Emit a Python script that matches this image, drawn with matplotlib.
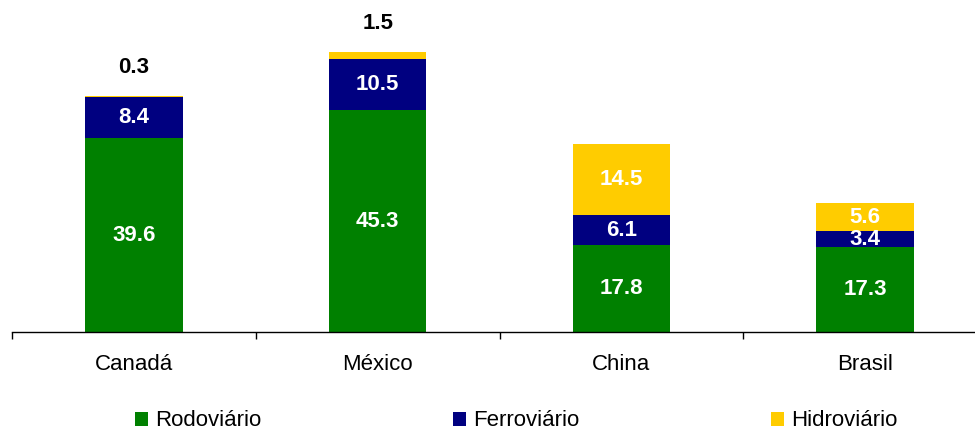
import matplotlib
matplotlib.use("Agg")
import matplotlib.pyplot as plt
import numpy as np

plt.rcParams['font.family'] = ['Liberation Sans', 'DejaVu Sans']

categories = ["Canadá", "México", "China", "Brasil"]
rodoviario = [39.6, 45.3, 17.8, 17.3]
ferroviario = [8.4, 10.5, 6.1, 3.4]
hidroviario = [0.3, 1.5, 14.5, 5.6]
series_names = ["Rodoviário", "Ferroviário", "Hidroviário"]
colors = ["#008000", "#000080", "#FFCC00"]

W, H = 975, 432
fig = plt.figure(figsize=(W / 100, H / 100), dpi=100)
scale = 4.89  # px per unit
ymax = 60
ax_bottom_px = 332
ax_h_px = ymax * scale
ax = fig.add_axes([12 / W, 1 - ax_bottom_px / H, 975 / W, ax_h_px / H])

x = np.arange(len(categories))
width = 0.40
bottom = np.zeros(len(categories))
handles = []
for name, vals, c in zip(series_names, [rodoviario, ferroviario, hidroviario], colors):
    vals = np.array(vals)
    b = ax.bar(x, vals, width, bottom=bottom, color=c, label=name, zorder=2)
    handles.append(b)
    for i, v in enumerate(vals):
        if v < 1.0 or (name == "Hidroviário" and categories[i] == "México"):
            ax.annotate(f"{v:.1f}", (x[i], bottom[i] + v), xytext=(0, 20.5),
                        textcoords="offset points", ha="center", va="center",
                        fontsize=16, fontweight="bold", color="black",
                        annotation_clip=False)
        else:
            ax.text(x[i], bottom[i] + v / 2, f"{v:.1f}", ha="center", va="center",
                    fontsize=16, fontweight="bold", color="white")
    bottom = bottom + vals

ax.set_xlim(-0.5, 3.5)
ax.set_ylim(0, ymax)
for s in ["left", "right", "top"]:
    ax.spines[s].set_visible(False)
ax.spines["bottom"].set_linewidth(1.0)
ax.set_yticks([])
ax.set_xticks(x)
ax.set_xticklabels(categories, fontsize=16)
ax.tick_params(axis="x", which="major", length=0, pad=15.5)
ax.set_xticks(np.arange(-0.5, 4.0, 1.0), minor=True)
ax.tick_params(axis="x", which="minor", length=5, width=1, direction="out")

fig.legend(handles=handles, labels=series_names, loc="center",
           bbox_to_anchor=(516 / W, 1 - 421 / H), ncol=3, frameon=False,
           fontsize=16, handlelength=0.59, handleheight=0.59,
           handletextpad=0.32, columnspacing=8.62, borderaxespad=0, borderpad=0)

fig.savefig("out.png", dpi=100)
